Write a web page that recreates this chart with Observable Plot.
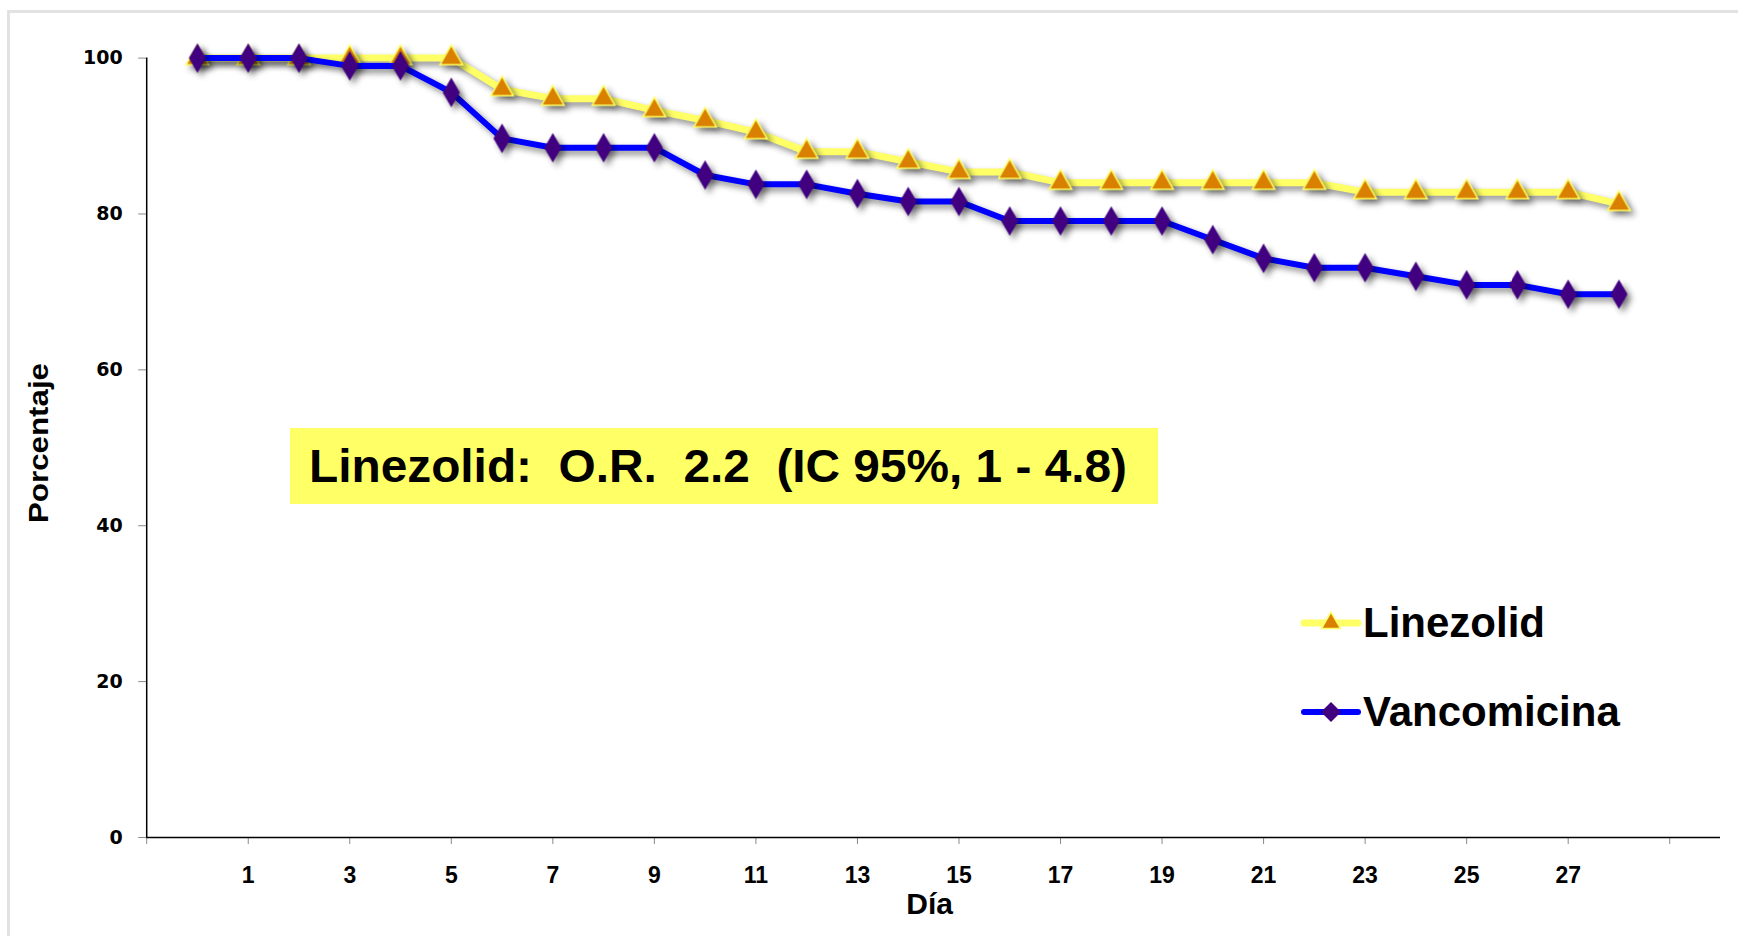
<!DOCTYPE html>
<html>
<head>
<meta charset="utf-8">
<script src="https://cdn.jsdelivr.net/npm/d3@7"></script>
<script src="https://cdn.jsdelivr.net/npm/@observablehq/plot@0.6"></script>
<style>
  html, body { margin: 0; padding: 0; background: #fff; }
  #wrap { position: relative; width: 1738px; height: 936px; overflow: hidden; font-family: "Liberation Sans", Arial, sans-serif; }
  #frame { position: absolute; left: 7px; top: 10px; right: -10px; bottom: -10px; border-top: 3px solid #e2e2e2; border-left: 3px solid #e2e2e2; }
  #wrap svg.chart { position: absolute; left: 0; top: 0; }
  .shadow { filter: drop-shadow(4px 4px 3px rgba(0,0,0,0.45)); }
  #note { position: absolute; background: #FFFF66; left: 290px; top: 428px; width: 868px; height: 76px; }
  #note span { position: absolute; left: 19px; top: 50%; transform-origin: 0 50%; font-weight: bold; font-size: 46px; white-space: pre; line-height: 1; color: #000; }
  .legrow svg { position: absolute; }
  .legrow span { position: absolute; font-weight: bold; font-size: 42px; line-height: 1; white-space: pre; color: #000; transform: translateY(-50%); }
</style>
</head>
<body>
<div id="wrap"><div id="frame"></div></div>
<script>
// ---- data ----
const days = [0,1,2,3,4,5,6,7,8,9,10,11,12,13,14,15,16,17,18,19,20,21,22,23,24,25,26,27,28];
const linezolid = [100,100,100,100,100,100,96.0,94.8,94.8,93.3,92.0,90.5,88.0,88.0,86.7,85.4,85.4,84.0,84.0,84.0,84.0,84.0,84.0,82.8,82.8,82.8,82.8,82.8,81.3];
const vancomicina = [100,100,100,99.0,99.0,95.6,89.7,88.5,88.5,88.5,85.0,83.8,83.8,82.6,81.6,81.6,79.1,79.1,79.1,79.1,76.7,74.3,73.1,73.1,72.0,70.9,70.9,69.7,69.7];
const seriesNames = ["Linezolid", "Vancomicina"];
const yTicks = [0,20,40,60,80,100];
const xTickLabels = [1,3,5,7,9,11,13,15,17,19,21,23,25,27];
const xTickMarks = [-1,1,3,5,7,9,11,13,15,17,19,21,23,25,27,29];
const xTitle = "Día";
const yTitle = "Porcentaje";
const annotationText = "Linezolid:  O.R.  2.2  (IC 95%, 1 - 4.8)";

const lzData = days.map((d, i) => ({day: d, value: linezolid[i]}));
const vcData = days.map((d, i) => ({day: d, value: vancomicina[i]}));

// ---- styles ----
const YELLOW = "#FFFF66", ORANGE = "#D98000", BLUE = "#0000FF", PURPLE = "#400080";
const FONT = "Liberation Sans, Arial, sans-serif";

const chart = Plot.plot({
  width: 1738, height: 936,
  marginLeft: 146.2, marginRight: 18, marginTop: 57.6, marginBottom: 99,
  x: {domain: [-1, 30]},
  y: {domain: [0, 100]},
  className: "chart",
  style: {background: "transparent", overflow: "visible"},
  marks: [
    Plot.axisX({ticks: xTickMarks, tickSize: 7, tickPadding: 22,
      tickFormat: d => xTickLabels.includes(d) ? String(d) : "",
      stroke: "#8a8a8a", fill: "black", fontSize: 23, fontWeight: "bold", fontFamily: FONT, label: null}),
    Plot.axisY({ticks: yTicks, tickSize: 8, tickPadding: 16,
      stroke: "#8a8a8a", fill: "black", fontSize: 19, fontWeight: "bold", fontFamily: "DejaVu Sans, sans-serif", label: null}),
    Plot.ruleY([0], {stroke: "black", strokeWidth: 1.5}),
    Plot.ruleX([-1], {stroke: "black", strokeWidth: 1.5}),
    Plot.text([yTitle], {text: d => d, frameAnchor: "left", rotate: -90, dx: -107.4,
      fontSize: 27, fontWeight: "bold", fontFamily: FONT, fill: "black", className: "ytitle"}),
    Plot.text([xTitle], {text: d => d, frameAnchor: "bottom", lineAnchor: "middle", dx: -4, dy: 67,
      fontSize: 30, fontWeight: "bold", fontFamily: FONT, fill: "black"}),
    Plot.line(lzData, {x: "day", y: "value", stroke: YELLOW, strokeWidth: 7, strokeLinejoin: "round", className: "shadow"}),
    Plot.dot(lzData, {x: "day", y: "value", symbol: "triangle", r: 8.4, fill: ORANGE, stroke: YELLOW, strokeWidth: 1.5, className: "shadow"}),
    Plot.line(vcData, {x: "day", y: "value", stroke: BLUE, strokeWidth: 6, strokeLinejoin: "round", className: "shadow"}),
    Plot.dot(vcData, {x: "day", y: "value", symbol: "diamond", r: 9, fill: PURPLE, stroke: "none", className: "shadow"})
  ]
});
chart.classList.add("chart");
const wrap = document.getElementById("wrap");
wrap.appendChild(chart);

// stretch the rotated y title to the reference length, keeping it centred on the frame
const yt = d3.select(chart).select("g.ytitle text");
if (!yt.empty()) {
  const node = yt.node();
  const bb0 = node.getBoundingClientRect();
  const c0 = bb0.top + bb0.height / 2;
  yt.attr("textLength", 160).attr("lengthAdjust", "spacingAndGlyphs");
  const bb1 = node.getBoundingClientRect();
  const c1 = bb1.top + bb1.height / 2;
  const target = 443; // vertical centre of the title in the reference
  const g = node.parentNode;
  const shift = target - c1;
  g.setAttribute("transform", (g.getAttribute("transform") || "") + ` translate(0,${shift})`);
}

// ---- annotation box ----
const note = document.createElement("div");
note.id = "note";
const ns = document.createElement("span");
ns.textContent = annotationText;
note.appendChild(ns);
wrap.appendChild(note);
const w0 = ns.getBoundingClientRect().width;
ns.style.transform = `translateY(-50%) scaleX(${818 / w0})`;

// ---- legend ----
const legendRows = [
  {name: seriesNames[0], y: 623, line: YELLOW, lw: 7, sym: d3.symbolTriangle2, size: Math.PI * 9 * 9, fill: ORANGE, stroke: YELLOW, sw: 1.5},
  {name: seriesNames[1], y: 711.6, line: BLUE, lw: 6, sym: d3.symbolDiamond2, size: Math.PI * 81, fill: PURPLE, stroke: "none", sw: 0}
];
for (const r of legendRows) {
  const row = document.createElement("div");
  row.className = "legrow";
  const svg = d3.create("svg").attr("width", 62).attr("height", 30)
    .style("left", "1300px").style("top", (r.y - 15) + "px");
  svg.append("line").attr("x1", 4).attr("x2", 58).attr("y1", 15).attr("y2", 15)
    .attr("stroke", r.line).attr("stroke-width", r.lw).attr("stroke-linecap", "round");
  svg.append("path").attr("transform", "translate(31,15)").attr("d", d3.symbol(r.sym, r.size)())
    .attr("fill", r.fill).attr("stroke", r.stroke).attr("stroke-width", r.sw);
  row.appendChild(svg.node());
  const t = document.createElement("span");
  t.textContent = r.name;
  t.style.left = "1363px";
  t.style.top = r.y + "px";
  row.appendChild(t);
  wrap.appendChild(row);
}
</script>
</body>
</html>
